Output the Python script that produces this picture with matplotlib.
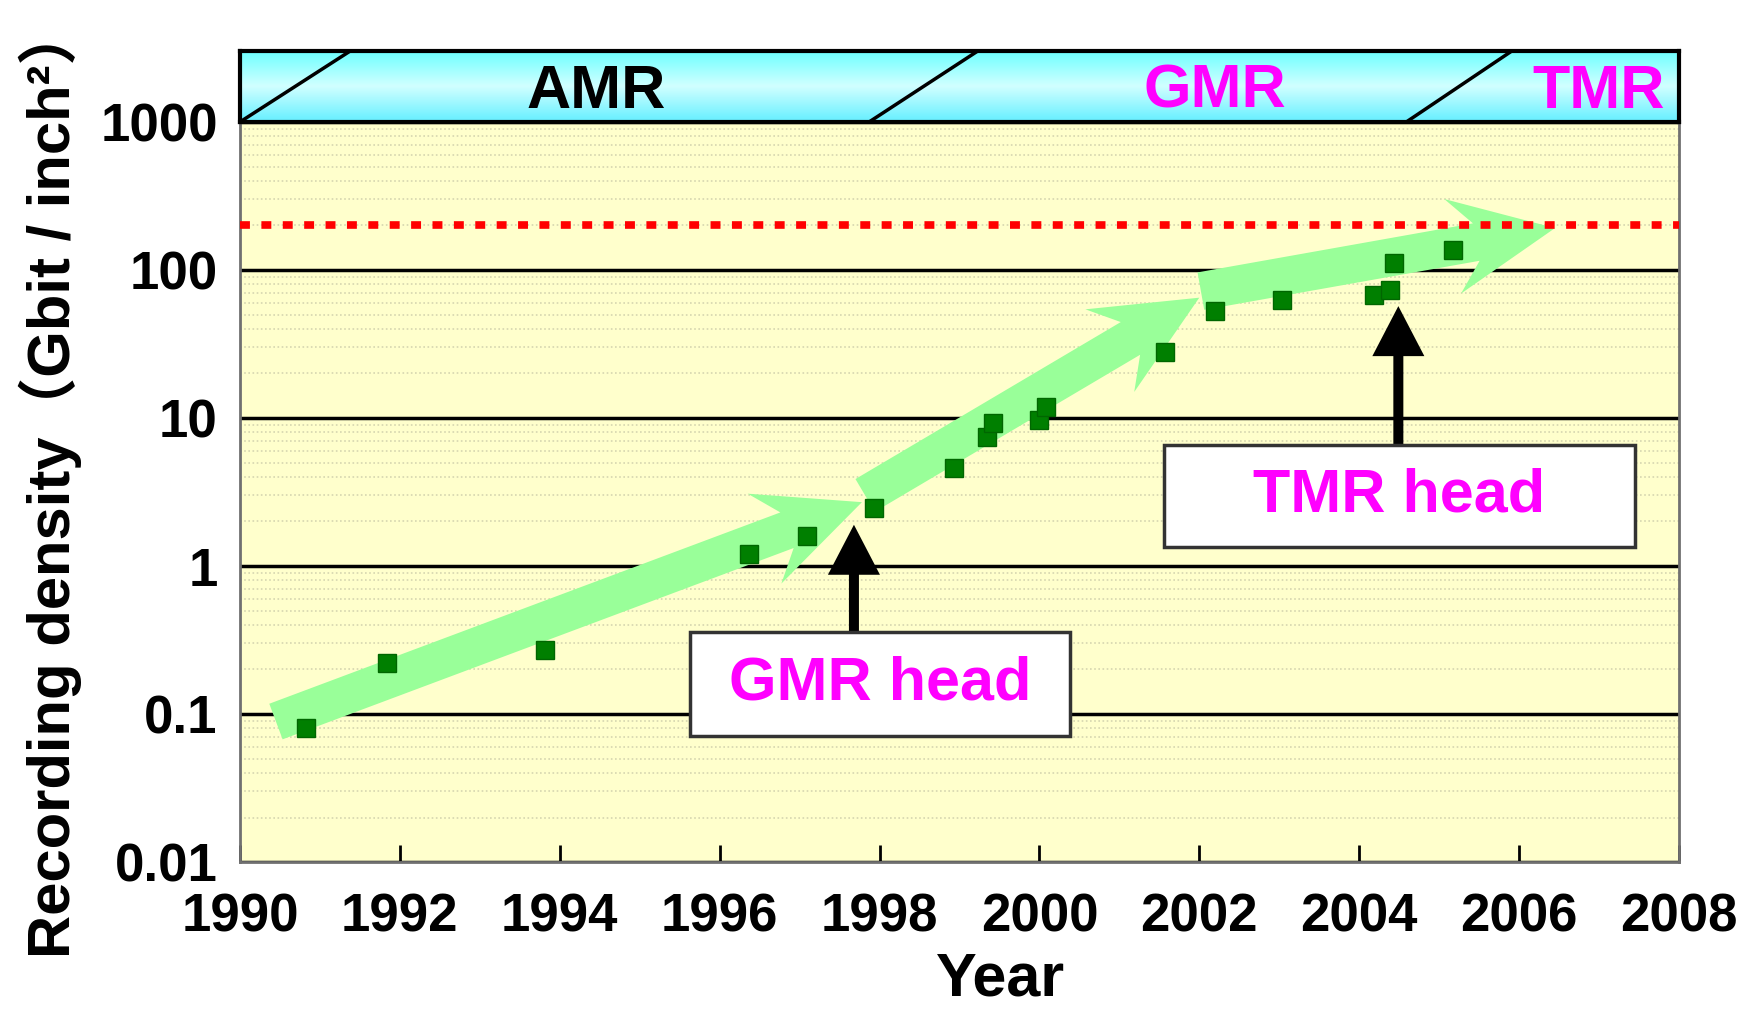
import numpy as np
import matplotlib.pyplot as plt
from matplotlib.patches import Polygon, Rectangle
from matplotlib.ticker import LogLocator, NullFormatter

plt.rcParams['font.family'] = ['Liberation Sans', 'Noto Sans CJK JP']
plt.rcParams['font.weight'] = 'bold'

# Areal recording density of HDD products by year
years = [1990.82, 1991.84, 1993.82, 1996.37, 1997.09, 1997.93, 1998.93, 1999.35,
         1999.42, 2000.0, 2000.08, 2001.57, 2002.2, 2003.03, 2004.19, 2004.38,
         2004.44, 2005.17]
density = [0.081, 0.22, 0.27, 1.2, 1.6, 2.46, 4.6, 7.4, 9.2, 9.7, 11.9, 28,
           53, 63, 68, 73, 111, 136]

# Trend arrows for each head generation: (start year, start density, end year, end density)
trend_arrows = [(1990.45, 0.089, 1997.78, 2.7),
                (1997.82, 3.0, 2002.0, 65),
                (2002.02, 72, 2006.45, 192)]

# Head technology eras shown in the top band
era_names = ['AMR', 'GMR', 'TMR']
era_label_x = [1994.45, 2002.2, 2007.0]
era_colors = ['black', '#FF00FF', '#FF00FF']
era_bounds = [(1990.0, 1991.38), (1997.87, 1999.23), (2004.59, 2005.91)]

limit_density = 200

x_ticks = list(range(1990, 2009, 2))
y_ticks = [0.01, 0.1, 1, 10, 100, 1000]
y_tick_labels = ['0.01', '0.1', '1', '10', '100', '1000']

fig = plt.figure(figsize=(17.44, 10.13), dpi=100)
ax = fig.add_axes([0.1376, 0.149, 0.8251, 0.7306])
band = fig.add_axes([0.1376, 0.8796, 0.8251, 0.0701])

# main plot
ax.set_facecolor('#FFFFCC')
ax.set_yscale('log')
ax.set_xlim(1990, 2008)
ax.set_ylim(0.01, 1000)
ax.set_xticks(x_ticks)
ax.set_xticklabels([str(y) for y in x_ticks], fontsize=38)
ax.set_yticks(y_ticks)
ax.set_yticklabels(y_tick_labels, fontsize=38)
ax.yaxis.set_minor_locator(LogLocator(base=10, subs=np.arange(2, 10)))
ax.yaxis.set_minor_formatter(NullFormatter())
ax.tick_params(axis='x', direction='in', length=12, width=2, pad=22)
ax.tick_params(axis='y', which='both', length=0, pad=16)
ax.grid(True, axis='y', which='minor', color='#D6D6B0', lw=1.2, ls=(0, (1, 1.5)), zorder=0)
ax.grid(True, axis='y', which='major', color='black', lw=2.5, zorder=1)
ax.set_axisbelow(True)
for side in ['left', 'right', 'bottom']:
    ax.spines[side].set_color('#707070')
    ax.spines[side].set_linewidth(2)
ax.spines['top'].set_visible(False)

ax.axhline(limit_density, color='red', lw=5.5, ls=(0, (1.3, 1.5)),
           dash_capstyle='butt', zorder=4)


def block_arrow(ax, x0, y0, x1, y1, shaft, head_w, head_len, notch, **kw):
    p0 = ax.transData.transform((x0, y0))
    p1 = ax.transData.transform((x1, y1))
    d = p1 - p0
    u = d / np.hypot(*d)
    n = np.array([-u[1], u[0]])
    base = p1 - u * head_len
    pts = [p0 + n * shaft, base + u * notch + n * shaft, base + n * head_w, p1,
           base - n * head_w, base + u * notch - n * shaft, p0 - n * shaft]
    verts = ax.transData.inverted().transform(pts)
    ax.add_patch(Polygon(verts, closed=True, lw=0, **kw))


for x0, y0, x1, y1 in trend_arrows:
    block_arrow(ax, x0, y0, x1, y1, 19, 48, 104, 24, color='#99FF99', zorder=3)

ax.plot(years, density, 's', color='#007F00', ms=13.5, mec='#006600', zorder=5)

# callouts for the new head types
callouts = [('GMR head', 1997.68, 0.36, 1.9, (1995.63, 0.071, 2000.38, 0.36)),
            ('TMR head', 2004.49, 6.6, 57, (2001.56, 1.34, 2007.45, 6.6))]
for label, ax_x, y_from, y_to, (bx0, by0, bx1, by1) in callouts:
    block_arrow(ax, ax_x, y_from, ax_x, y_to, 5, 26, 50, 0, color='black', zorder=6)
    ax.add_patch(Rectangle((bx0, by0), bx1 - bx0, by1 - by0, facecolor='white',
                           edgecolor='#333333', lw=2.5, zorder=7))
    ax.text((bx0 + bx1) / 2, np.sqrt(by0 * by1), label, color='#FF00FF', fontsize=44,
            fontweight='bold', ha='center', va='center', zorder=8)

# era band
band.set_xlim(1990, 2008)
band.set_ylim(0, 1)
t = np.linspace(0, 1, 64)
r = np.interp(t, [0, 0.5, 1], [0.42, 0.82, 0.40])
g = np.interp(t, [0, 0.5, 1], [1.0, 1.0, 0.94])
grad = np.dstack([r, g, np.ones_like(t)]).reshape(64, 1, 3)
band.imshow(grad, extent=[1990, 2008, 0, 1], aspect='auto', origin='upper', zorder=0)
for xb, xt in era_bounds:
    band.plot([xb, xt], [0, 1], color='black', lw=2.5, zorder=2)
for name, xl, c in zip(era_names, era_label_x, era_colors):
    band.text(xl, 0.42, name, color=c, fontsize=44, fontweight='bold',
              ha='center', va='center', zorder=3)
band.set_xticks([])
band.set_yticks([])
for s in band.spines.values():
    s.set_linewidth(3)
    s.set_color('black')

fig.text(50 / 1744, 1 - 481 / 1013, 'Recording density（Gbit / inch²）', rotation=90,
         fontsize=43, fontweight='bold', ha='center', va='center')
fig.text(1001 / 1744, 1 - 980 / 1013, 'Year', fontsize=44, fontweight='bold',
         ha='center', va='center')

fig.savefig('out.png', dpi=100)
